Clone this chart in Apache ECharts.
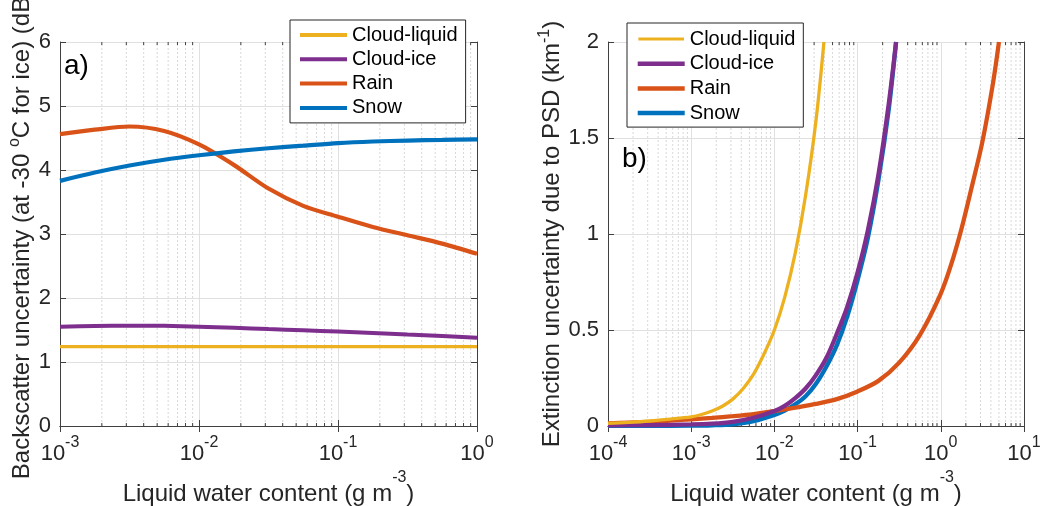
<!DOCTYPE html>
<html>
<head>
<meta charset="utf-8">
<script src="https://cdn.jsdelivr.net/npm/echarts@6/dist/echarts.min.js"></script>
<style>html,body{margin:0;padding:0;background:#fff;}#c{width:1044px;height:506px;}</style>
</head>
<body>
<div id="c"></div>
<script>
// ---------- data ----------
const seriesNames = ['Cloud-liquid', 'Cloud-ice', 'Rain', 'Snow'];
const seriesColors = ['#EDB120', '#7E2F8E', '#D95319', '#0072BD'];

// panel a) backscatter uncertainty (dB) vs liquid water content (g m-3)
const aX = [0.001, 0.00178, 0.00316, 0.00562, 0.01, 0.0178, 0.0316, 0.0562, 0.1, 0.178, 0.316, 0.562, 1];
const aLiquid = [1.24, 1.24, 1.24, 1.24, 1.24, 1.24, 1.24, 1.24, 1.24, 1.24, 1.24, 1.24, 1.24];
const aIce = [1.55, 1.563, 1.568, 1.565, 1.552, 1.535, 1.515, 1.495, 1.475, 1.455, 1.43, 1.405, 1.38];
const aRain = [4.56, 4.63, 4.68, 4.61, 4.40, 4.08, 3.71, 3.44, 3.27, 3.11, 2.98, 2.85, 2.69];
const aSnow = [3.83, 3.96, 4.07, 4.16, 4.23, 4.29, 4.34, 4.38, 4.42, 4.445, 4.46, 4.47, 4.48];

// panel b) extinction uncertainty (km-1) vs liquid water content (g m-3)
const bLiquidX = [1e-4, 1.78e-4, 3.16e-4, 5.62e-4, 1e-3, 1.33e-3, 1.78e-3, 2.37e-3, 3.16e-3, 4.22e-3, 5.62e-3, 7.5e-3, 1e-2, 1.33e-2, 1.78e-2, 2.37e-2, 3.16e-2, 3.94e-2];
const bLiquidY = [0.014, 0.019, 0.026, 0.036, 0.048, 0.06, 0.078, 0.103, 0.14, 0.195, 0.27, 0.375, 0.50, 0.67, 0.90, 1.20, 1.59, 2.0];
const bIceX = [1e-4, 3.16e-4, 1e-3, 1.78e-3, 3.16e-3, 5.62e-3, 1e-2, 1.33e-2, 1.78e-2, 2.37e-2, 3.16e-2, 4.22e-2, 5.62e-2, 7.5e-2, 0.1, 0.133, 0.178, 0.237, 0.29];
const bIceY = [0.004, 0.005, 0.008, 0.012, 0.022, 0.043, 0.078, 0.105, 0.145, 0.195, 0.265, 0.355, 0.48, 0.62, 0.80, 1.02, 1.31, 1.68, 2.0];
const bSnowX = [1e-4, 3.16e-4, 1e-3, 1.78e-3, 3.16e-3, 5.62e-3, 1e-2, 1.33e-2, 1.78e-2, 2.37e-2, 3.16e-2, 4.22e-2, 5.62e-2, 7.5e-2, 0.1, 0.133, 0.178, 0.237, 0.29];
const bSnowY = [0.001, 0.001, 0.002, 0.004, 0.009, 0.025, 0.057, 0.08, 0.113, 0.155, 0.22, 0.31, 0.42, 0.57, 0.76, 0.98, 1.28, 1.65, 2.0];
const bRainX = [1e-4, 1.78e-4, 3.16e-4, 5.62e-4, 1e-3, 1.78e-3, 3.16e-3, 5.62e-3, 1e-2, 1.78e-2, 3.16e-2, 5.62e-2, 0.1, 0.178, 0.316, 0.562, 1, 1.33, 1.78, 2.37, 3.16, 4.22, 5.0];
const bRainY = [0.013, 0.018, 0.022, 0.028, 0.035, 0.042, 0.051, 0.062, 0.078, 0.096, 0.115, 0.14, 0.18, 0.235, 0.33, 0.475, 0.69, 0.84, 1.03, 1.25, 1.48, 1.78, 2.0];

// axis ranges / ticks
const aXRange = [0.001, 1];
const aYRange = [0, 6];
const aYStep = 1;
const bXRange = [0.0001, 10];
const bYRange = [0, 2];
const bYStep = 0.5;

// ---------- helpers ----------
const FONT = 'Liberation Sans, Arial, Helvetica, sans-serif';
const TXT = '#262626';
const AXIS = '#404040';
function zip(xs, ys) { return xs.map((x, i) => [x, ys[i]]); }
function minorValues(range) {
  const out = [];
  const d0 = Math.round(Math.log10(range[0]));
  const d1 = Math.round(Math.log10(range[1]));
  for (let d = d0; d < d1; d++) {
    for (let k = 2; k <= 9; k++) out.push([k * Math.pow(10, d)]);
  }
  return out;
}
const tickRich = {
  b: { fontSize: 22, fontFamily: FONT, color: TXT },
  s: { fontSize: 16, fontFamily: FONT, color: TXT, padding: [0, 0, 22, 0] }
};
const nameRichX = {
  t: { fontSize: 24, fontFamily: FONT, color: TXT },
  s: { fontSize: 16, fontFamily: FONT, color: TXT, padding: [0, 0, 32, 0] }
};
const nameRichY = {
  t: { fontSize: 24, fontFamily: FONT, color: TXT },
  s: { fontSize: 16, fontFamily: FONT, color: TXT, padding: [0, 0, 16, 0] }
};
function logLabel(v) {
  const e = Math.round(Math.log10(v));
  return '{b|10}{s|' + e + '}';
}
function xBottom(gridIndex, range) {
  return {
    type: 'log', logBase: 10, gridIndex, min: range[0], max: range[1], position: 'bottom',
    axisLine: { show: true, lineStyle: { color: AXIS, width: 1 } },
    axisTick: { show: true, inside: true, length: 6, lineStyle: { color: AXIS } },
    axisLabel: { show: true, margin: 9, formatter: logLabel, rich: tickRich },
    splitLine: { show: true, lineStyle: { color: '#e0e0e0', width: 1 } },
    name: '{t|Liquid water content (g m}{s|-3}{t|)}',
    nameLocation: 'middle', nameGap: 40,
    nameTextStyle: { rich: nameRichX }
  };
}
function xTop(gridIndex, range) {
  return {
    type: 'log', logBase: 10, gridIndex, min: range[0], max: range[1], position: 'top',
    axisLine: { show: true, lineStyle: { color: AXIS, width: 1 } },
    axisTick: { show: true, inside: true, length: 6, lineStyle: { color: AXIS } },
    axisLabel: { show: false }, splitLine: { show: false }
  };
}
function yLeft(gridIndex, range, step, nameRich, gap) {
  return {
    type: 'value', gridIndex, min: range[0], max: range[1], interval: step, position: 'left',
    axisLine: { show: true, lineStyle: { color: AXIS, width: 1 } },
    axisTick: { show: true, inside: true, length: 6, lineStyle: { color: AXIS } },
    axisLabel: { show: true, margin: 9, fontSize: 22, fontFamily: FONT, color: TXT },
    splitLine: { show: true, lineStyle: { color: '#e0e0e0', width: 1 } },
    name: nameRich, nameLocation: 'middle', nameGap: gap,
    nameTextStyle: { rich: nameRichY }
  };
}
function yRight(gridIndex, range, step) {
  return {
    type: 'value', gridIndex, min: range[0], max: range[1], interval: step, position: 'right',
    axisLine: { show: true, lineStyle: { color: AXIS, width: 1 } },
    axisTick: { show: true, inside: true, length: 6, lineStyle: { color: AXIS } },
    axisLabel: { show: false }, splitLine: { show: false }
  };
}
function line(i, data, xi, yi, width, z) {
  return {
    name: seriesNames[i], type: 'line', data, xAxisIndex: xi, yAxisIndex: yi,
    symbol: 'none', showSymbol: false, smooth: 0.3, clip: true, z,
    lineStyle: { color: seriesColors[i], width },
    itemStyle: { color: seriesColors[i] }
  };
}
// minor (2..9) log grid lines and minor ticks drawn through the axis scales
function minorGridSeries(xi, yi, range, yRange) {
  return {
    type: 'custom', xAxisIndex: xi, yAxisIndex: yi, silent: true, z: 1,
    data: minorValues(range),
    renderItem: function (params, api) {
      const x = api.value(0);
      const p1 = api.coord([x, yRange[0]]);
      const p2 = api.coord([x, yRange[1]]);
      return {
        type: 'group',
        children: [
          { type: 'line', shape: { x1: p1[0], y1: p1[1], x2: p2[0], y2: p2[1] },
            style: { stroke: '#d8d8d8', lineWidth: 1, lineDash: [2, 2] } },
          { type: 'line', shape: { x1: p1[0], y1: p1[1], x2: p1[0], y2: p1[1] - 3 },
            style: { stroke: AXIS, lineWidth: 1 } },
          { type: 'line', shape: { x1: p2[0], y1: p2[1], x2: p2[0], y2: p2[1] + 3 },
            style: { stroke: AXIS, lineWidth: 1 } }
        ]
      };
    }
  };
}
function legendData(thinLiquid) {
  return seriesNames.map((n, i) => {
    const d = { name: n, icon: 'rect', itemStyle: { color: seriesColors[i] } };
    if (thinLiquid && i === 0) d.itemStyle = { color: seriesColors[i], borderColor: '#ffffff', borderWidth: 1.4 };
    return d;
  });
}

const chart = echarts.init(document.getElementById('c'), null, { renderer: 'canvas' });
chart.setOption({
  animation: false,
  backgroundColor: '#ffffff',
  textStyle: { fontFamily: FONT },
  title: [
    { text: 'a)', left: 64, top: 52, padding: 0, textStyle: { fontSize: 28, fontWeight: 'normal', color: '#000', fontFamily: FONT } },
    { text: 'b)', left: 622, top: 145, padding: 0, textStyle: { fontSize: 28, fontWeight: 'normal', color: '#000', fontFamily: FONT } }
  ],
  grid: [
    { left: 60, top: 42, width: 417, height: 384, containLabel: false, outerBoundsMode: 'none' },
    { left: 608, top: 42, width: 416, height: 384, containLabel: false, outerBoundsMode: 'none' }
  ],
  legend: [
    { data: legendData(false), orient: 'vertical', left: 290, top: 20, itemWidth: 47, itemHeight: 4, itemGap: 4.3,
      padding: [5, 8, 5, 10], borderColor: '#262626', borderWidth: 1, backgroundColor: '#fff',
      textStyle: { fontSize: 20, fontFamily: FONT, color: '#000', lineHeight: 20 }, selectedMode: false },
    { data: legendData(true), orient: 'vertical', left: 627, top: 23, itemWidth: 47, itemHeight: 4.5, itemGap: 4.7,
      padding: [6, 8, 4, 10], borderColor: '#262626', borderWidth: 1, backgroundColor: '#fff',
      textStyle: { fontSize: 20, fontFamily: FONT, color: '#000', lineHeight: 20 }, selectedMode: false }
  ],
  xAxis: [xBottom(0, aXRange), xTop(0, aXRange), xBottom(1, bXRange), xTop(1, bXRange)],
  yAxis: [
    yLeft(0, aYRange, aYStep, '{t|Backscatter uncertainty (at -30 }{s|o}{t|C for ice) (dB)}', 21),
    yRight(0, aYRange, aYStep),
    yLeft(1, bYRange, bYStep, '{t|Extinction uncertainty due to PSD (km}{s|-1}{t|)}', 39),
    yRight(1, bYRange, bYStep)
  ],
  series: [
    minorGridSeries(0, 0, aXRange, aYRange),
    line(0, zip(aX, aLiquid), 0, 0, 3.3, 2),
    line(1, zip(aX, aIce), 0, 0, 4, 3),
    line(2, zip(aX, aRain), 0, 0, 4.2, 4),
    line(3, zip(aX, aSnow), 0, 0, 4.2, 5),
    minorGridSeries(2, 2, bXRange, bYRange),
    line(3, zip(bSnowX, bSnowY), 2, 2, 4.3, 2),
    line(2, zip(bRainX, bRainY), 2, 2, 4.3, 3),
    line(1, zip(bIceX, bIceY), 2, 2, 4.3, 4),
    line(0, zip(bLiquidX, bLiquidY), 2, 2, 3.3, 5)
  ]
});
</script>
</body>
</html>
